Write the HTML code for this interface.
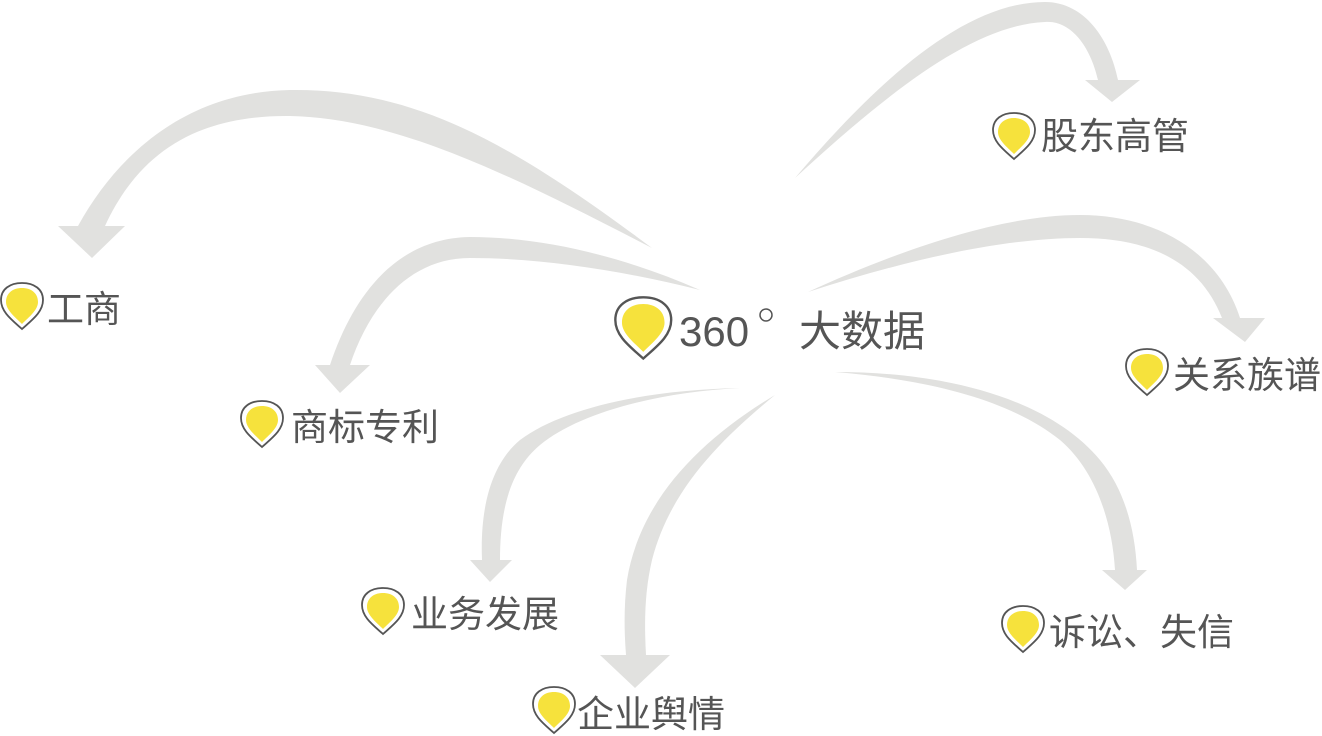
<!DOCTYPE html>
<html><head><meta charset="utf-8"><style>
html,body{margin:0;padding:0;background:#fff;}
svg{display:block}
text{font-family:"Liberation Sans","Noto Sans CJK SC",sans-serif;fill:#555;}
</style></head><body>
<svg width="1322" height="736" viewBox="0 0 1322 736" xmlns="http://www.w3.org/2000/svg">
<defs>
<g id="pin">
<path d="M22,47 C12,38 1,30 1,18 C1,7 10,1 22,1 C34,1 43,7 43,18 C43,30 32,38 22,47Z" fill="#fff" stroke="#555" stroke-width="1.8"/>
<path d="M22,42 C15,35 6,28 6,20 C6,11 13,6 22,6 C31,6 38,11 38,20 C38,28 29,35 22,42Z" fill="#f6e23c"/>
</g>
</defs>
<g fill="#e1e1df">
<path d="M652,248 C520,150 420,88 290,90 C190,92 120,150 78,226 L58,226 L92,258 L125,226 L105,226 C140,150 200,115 290,116 C400,118 520,180 652,248 Z"/>
<path d="M700,290 C620,255 540,237 470,237 C400,238 355,290 330,365 L315,365 L340,393 L370,365 L350,365 C370,305 410,258 470,258 C540,258 620,270 700,290 Z"/>
<path d="M795,178 C870,90 960,2 1045,2 C1085,2 1110,40 1118,80 L1140,80 L1112,102 L1085,80 L1098,80 C1090,45 1070,20 1045,22 C970,25 880,100 795,178 Z"/>
<path d="M808,292 C900,250 1000,215 1080,215 C1160,215 1220,255 1240,318 L1265,318 L1245,342 L1213,318 L1222,318 C1200,262 1150,238 1080,238 C1000,238 900,262 808,292 Z"/>
<path d="M835,372 C950,372 1050,400 1100,460 C1125,490 1135,530 1137,570 L1147,570 L1125,590 L1102,570 L1115,570 C1112,520 1095,470 1060,440 C1010,400 930,380 835,372 Z"/>
<path d="M740,388 C640,390 560,410 520,440 C490,465 480,510 482,560 L470,560 L490,582 L512,560 L500,560 C500,510 510,470 540,445 C580,412 660,392 740,388 Z"/>
<path d="M775,395 C700,440 640,500 627,580 C624,605 624,630 626,655 L600,655 L635,688 L670,655 L646,655 C644,620 645,590 652,560 C670,490 720,440 775,395 Z"/>
</g>
<use href="#pin" transform="translate(0,282)"/>
<use href="#pin" transform="translate(240,400)"/>
<use href="#pin" transform="translate(992,112)"/>
<use href="#pin" transform="translate(1125,348)"/>
<use href="#pin" transform="translate(361,587)"/>
<use href="#pin" transform="translate(532,686)"/>
<use href="#pin" transform="translate(1001,605)"/>
<use href="#pin" transform="translate(614,296) scale(1.33)"/>
<text x="47" y="322" font-size="37">工商</text>
<text x="291" y="440" font-size="37">商标专利</text>
<text x="1041" y="149" font-size="37">股东高管</text>
<text x="1173" y="388" font-size="37">关系族谱</text>
<text x="411" y="627" font-size="37">业务发展</text>
<text x="577" y="727" font-size="37">企业舆情</text>
<text x="1049" y="645" font-size="37">诉讼、失信</text>
<text x="679" y="346" font-size="42">360</text>
<circle cx="766" cy="315" r="6" fill="none" stroke="#555" stroke-width="1.5"/>
<text x="799" y="346" font-size="42">大数据</text>
</svg>
</body></html>
